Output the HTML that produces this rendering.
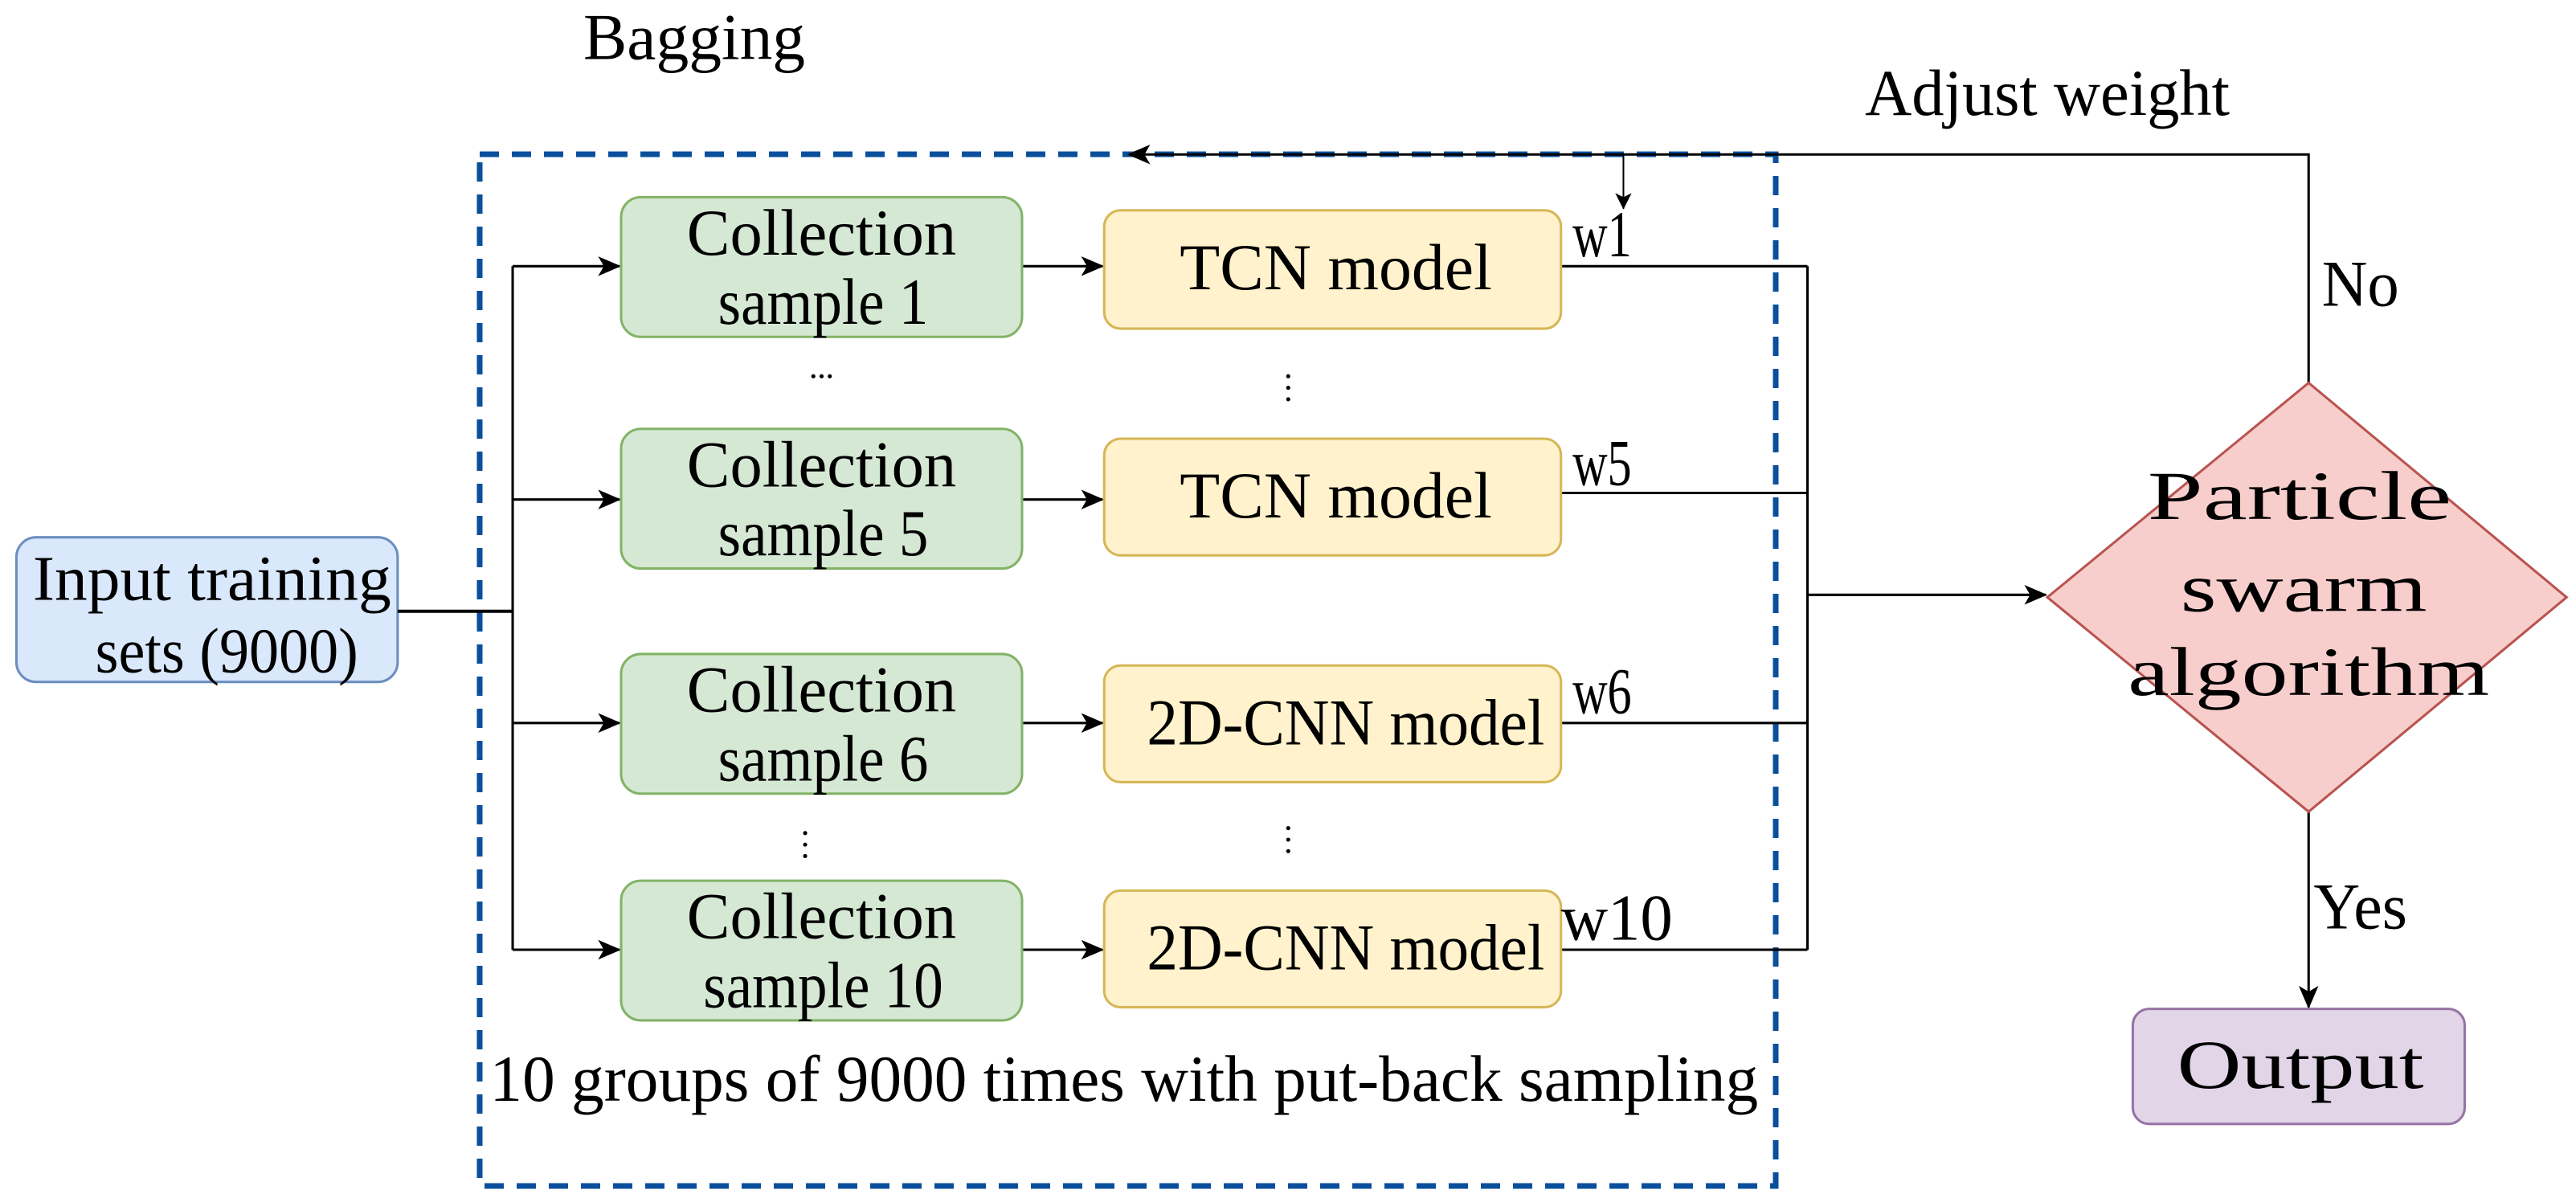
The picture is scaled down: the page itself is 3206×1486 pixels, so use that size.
<!DOCTYPE html>
<html><head><meta charset="utf-8"><style>
html,body{margin:0;padding:0;background:#fff;}
svg{display:block;}
text{font-family:"Liberation Serif",serif;fill:#000;}
</style></head><body>
<svg width="3206" height="1486" viewBox="0 0 3206 1486" xmlns="http://www.w3.org/2000/svg">
<defs>
<marker id="ah" markerWidth="28" markerHeight="24" refX="26" refY="12" orient="auto" markerUnits="userSpaceOnUse" viewBox="0 0 28 24">
<path d="M0,0 L28,12 L0,24 L7,12 Z" fill="#000"/>
</marker>
<marker id="ahs" markerWidth="20" markerHeight="20" refX="19" refY="10" orient="auto" markerUnits="userSpaceOnUse" viewBox="0 0 20 20">
<path d="M0,0 L20,10 L0,20 L5,10 Z" fill="#000"/>
</marker>
</defs>
<rect x="597" y="192" width="1613" height="1284" fill="none" stroke="#0a4f9c" stroke-width="7" stroke-dasharray="24,16"/>
<g transform="scale(1.0225)">
<g font-size="80">
<text x="710" y="72" textLength="270" lengthAdjust="spacingAndGlyphs">Bagging</text>
<text x="2270" y="140" textLength="444" lengthAdjust="spacingAndGlyphs">Adjust weight</text>
</g>
<rect x="20" y="654" width="464" height="176" rx="24" fill="#dae8fc" stroke="#6c8ebf" stroke-width="3"/>
<text x="40" y="730" font-size="78" textLength="436" lengthAdjust="spacingAndGlyphs">Input training</text>
<text x="116" y="818" font-size="78" textLength="320" lengthAdjust="spacingAndGlyphs">sets (9000)</text>
<g stroke="#000" stroke-width="3" fill="none">
<line x1="484" y1="744" x2="624" y2="744" stroke-width="4"/>
<line x1="624" y1="324" x2="624" y2="1156"/>
<line x1="624" y1="324" x2="754" y2="324" marker-end="url(#ah)"/>
<line x1="624" y1="608" x2="754" y2="608" marker-end="url(#ah)"/>
<line x1="624" y1="880" x2="754" y2="880" marker-end="url(#ah)"/>
<line x1="624" y1="1156" x2="754" y2="1156" marker-end="url(#ah)"/>
<line x1="1244" y1="324" x2="1342" y2="324" marker-end="url(#ah)"/>
<line x1="1244" y1="608" x2="1342" y2="608" marker-end="url(#ah)"/>
<line x1="1244" y1="880" x2="1342" y2="880" marker-end="url(#ah)"/>
<line x1="1244" y1="1156" x2="1342" y2="1156" marker-end="url(#ah)"/>
<line x1="1900" y1="324" x2="2200" y2="324"/>
<line x1="1900" y1="600" x2="2200" y2="600"/>
<line x1="1900" y1="880" x2="2200" y2="880"/>
<line x1="1900" y1="1156" x2="2200" y2="1156"/>
<line x1="2200" y1="324" x2="2200" y2="1156"/>
<line x1="2200" y1="724" x2="2490" y2="724" marker-end="url(#ah)"/>
<polyline points="2810,466 2810,188 1374,188" marker-end="url(#ah)"/>
<line x1="1976" y1="188" x2="1976" y2="254" stroke-width="2" marker-end="url(#ahs)"/>
<line x1="2810" y1="988" x2="2810" y2="1226" marker-end="url(#ah)"/>
</g>
<g fill="#d5e8d4" stroke="#82b366" stroke-width="3">
<rect x="756" y="240" width="488" height="170" rx="24"/>
<rect x="756" y="522" width="488" height="170" rx="24"/>
<rect x="756" y="796" width="488" height="170" rx="24"/>
<rect x="756" y="1072" width="488" height="170" rx="24"/>
</g>
<g fill="#fff2cc" stroke="#d6b656" stroke-width="3">
<rect x="1344" y="256" width="556" height="144" rx="20"/>
<rect x="1344" y="534" width="556" height="142" rx="20"/>
<rect x="1344" y="810" width="556" height="142" rx="20"/>
<rect x="1344" y="1084" width="556" height="142" rx="20"/>
</g>
<g font-size="80">
<text x="836" y="310" textLength="328" lengthAdjust="spacingAndGlyphs">Collection</text>
<text x="874" y="394" textLength="256" lengthAdjust="spacingAndGlyphs">sample 1</text>
<text x="836" y="592" textLength="328" lengthAdjust="spacingAndGlyphs">Collection</text>
<text x="874" y="676" textLength="256" lengthAdjust="spacingAndGlyphs">sample 5</text>
<text x="836" y="866" textLength="328" lengthAdjust="spacingAndGlyphs">Collection</text>
<text x="874" y="950" textLength="256" lengthAdjust="spacingAndGlyphs">sample 6</text>
<text x="836" y="1142" textLength="328" lengthAdjust="spacingAndGlyphs">Collection</text>
<text x="856" y="1226" textLength="292" lengthAdjust="spacingAndGlyphs">sample 10</text>
<text x="1436" y="352" textLength="380" lengthAdjust="spacingAndGlyphs">TCN model</text>
<text x="1436" y="630" textLength="380" lengthAdjust="spacingAndGlyphs">TCN  model</text>
<text x="1396" y="906" textLength="484" lengthAdjust="spacingAndGlyphs">2D-CNN model</text>
<text x="1396" y="1180" textLength="484" lengthAdjust="spacingAndGlyphs">2D-CNN model</text>
<text x="1914" y="312" textLength="72" lengthAdjust="spacingAndGlyphs">w1</text>
<text x="1914" y="590" textLength="72" lengthAdjust="spacingAndGlyphs">w5</text>
<text x="1914" y="868" textLength="72" lengthAdjust="spacingAndGlyphs">w6</text>
<text x="1900" y="1144" textLength="136" lengthAdjust="spacingAndGlyphs">w10</text>
<text x="596" y="1340" textLength="1544" lengthAdjust="spacingAndGlyphs">10 groups of 9000 times with put-back sampling</text>
</g>
<g fill="#000">
<circle cx="990" cy="458" r="2.5"/><circle cx="1000" cy="458" r="2.5"/><circle cx="1010" cy="458" r="2.5"/>
<circle cx="1568" cy="458" r="2.5"/><circle cx="1568" cy="472" r="2.5"/><circle cx="1568" cy="486" r="2.5"/>
<circle cx="980" cy="1014" r="2.5"/><circle cx="980" cy="1028" r="2.5"/><circle cx="980" cy="1042" r="2.5"/>
<circle cx="1568" cy="1008" r="2.5"/><circle cx="1568" cy="1022" r="2.5"/><circle cx="1568" cy="1036" r="2.5"/>
</g>
<polygon points="2810,466 3124,727 2810,988 2492,727" fill="#f8cecc" stroke="#b85450" stroke-width="3"/>
<g font-size="84">
<text x="2614" y="632" textLength="370" lengthAdjust="spacingAndGlyphs">Particle</text>
<text x="2654" y="744" textLength="300" lengthAdjust="spacingAndGlyphs">swarm</text>
<text x="2590" y="846" textLength="440" lengthAdjust="spacingAndGlyphs">algorithm</text>
</g>
<g font-size="80">
<text x="2826" y="372" textLength="94" lengthAdjust="spacingAndGlyphs">No</text>
<text x="2816" y="1130" textLength="114" lengthAdjust="spacingAndGlyphs">Yes</text>
</g>
<rect x="2596" y="1228" width="404" height="140" rx="20" fill="#e1d5e7" stroke="#9673a6" stroke-width="3"/>
<text x="2650" y="1324" font-size="84" textLength="300" lengthAdjust="spacingAndGlyphs">Output</text>
</g>
</svg>
</body></html>
